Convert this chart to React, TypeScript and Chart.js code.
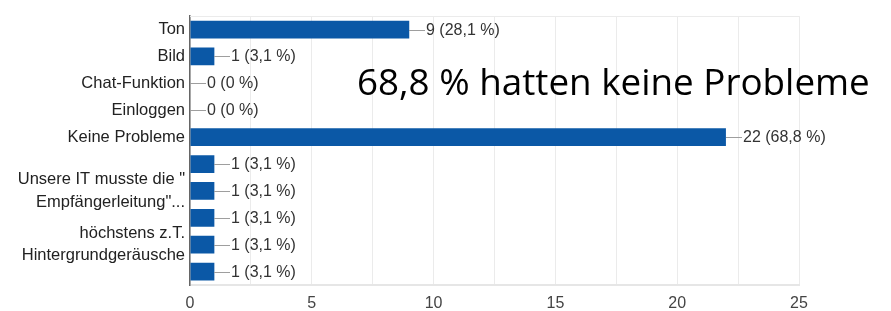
import React, { useEffect, useRef } from "react";
import { Chart, registerables } from "chart.js";

Chart.register(...registerables);

const categories: (string | string[])[] = [
  "Ton",
  "Bild",
  "Chat-Funktion",
  "Einloggen",
  "Keine Probleme",
  "",
  ['Unsere IT musste die "', 'Empfängerleitung"...'],
  "",
  ["höchstens z.T.", "Hintergrundgeräusche"],
  "",
];
const counts = [9, 1, 0, 0, 22, 1, 1, 1, 1, 1];
const valueLabels = [
  "9 (28,1 %)",
  "1 (3,1 %)",
  "0 (0 %)",
  "0 (0 %)",
  "22 (68,8 %)",
  "1 (3,1 %)",
  "1 (3,1 %)",
  "1 (3,1 %)",
  "1 (3,1 %)",
  "1 (3,1 %)",
];
const xMin = 0;
const xMax = 25;
const xStep = 2.5;
const xLabelEvery = 5;
const headline = "68,8 % hatten keine Probleme";

const FONT = "'Liberation Sans', Arial, sans-serif";

const overlayPlugin = {
  id: "overlay",
  beforeDatasetsDraw(chart: any) {
    const { ctx, chartArea } = chart;
    ctx.save();
    ctx.strokeStyle = "#ebebeb";
    ctx.lineWidth = 1;
    ctx.beginPath();
    ctx.moveTo(chartArea.left, Math.round(chartArea.top) + 0.5);
    ctx.lineTo(chartArea.right, Math.round(chartArea.top) + 0.5);
    ctx.stroke();
    ctx.restore();
  },
  afterDatasetsDraw(chart: any) {
    const { ctx } = chart;
    const meta = chart.getDatasetMeta(0);
    ctx.save();
    meta.data.forEach((bar: any, i: number) => {
      const x = Math.round(bar.x);
      const y = Math.round(bar.y) + 0.5;
      ctx.strokeStyle = "#9e9e9e";
      ctx.lineWidth = 1;
      ctx.beginPath();
      ctx.moveTo(x, y);
      ctx.lineTo(x + 16, y);
      ctx.stroke();
      ctx.fillStyle = "#333333";
      ctx.font = `16px ${FONT}`;
      ctx.textAlign = "left";
      ctx.textBaseline = "middle";
      ctx.fillText(valueLabels[i], x + 17, y);
    });
    // headline
    ctx.fillStyle = "#000000";
    const fam = "'Open Sans', 'Noto Sans', sans-serif";
    ctx.font = `100px ${fam}`;
    const w100 = ctx.measureText(headline).width;
    const size = (513 / w100) * 100;
    ctx.font = `${size}px ${fam}`;
    ctx.textAlign = "left";
    ctx.textBaseline = "alphabetic";
    ctx.fillText(headline, 357, 95);
    ctx.restore();
  },
};

export default function App() {
  const ref = useRef<HTMLCanvasElement | null>(null);
  useEffect(() => {
    if (!ref.current) return;
    const chart = new Chart(ref.current, {
      type: "bar",
      data: {
        labels: categories,
        datasets: [
          {
            data: counts,
            backgroundColor: "#0b58a6",
            borderWidth: 0,
            barPercentage: 0.66,
            categoryPercentage: 1,
          },
        ],
      },
      options: {
        indexAxis: "y",
        animation: false,
        responsive: true,
        maintainAspectRatio: false,
        layout: { padding: { top: 11, right: 92, left: 0, bottom: 0 } },
        plugins: {
          legend: { display: false },
          tooltip: { enabled: false },
        },
        scales: {
          x: {
            min: xMin,
            max: xMax,
            afterFit: (s: any) => {
              s.height = 26;
            },
            grid: { color: "#ebebeb", drawTicks: false },
            border: { color: "#e6e6e6", width: 2 },
            ticks: {
              stepSize: xStep,
              padding: 9,
              color: "#444444",
              font: { family: FONT, size: 16 },
              callback: (v: any) => (Number(v) % xLabelEvery === 0 ? String(v) : ""),
            },
          },
          y: {
            afterFit: (s: any) => {
              s.width = 190;
            },
            grid: { display: false, drawTicks: false },
            border: { color: "#666666", width: 1.5 },
            ticks: {
              autoSkip: false,
              padding: 5,
              color: "#222222",
              font: { family: FONT, size: 16.5, lineHeight: 1.35 },
            },
          },
        },
      },
      plugins: [overlayPlugin],
    });
    return () => chart.destroy();
  }, []);
  return (
    <div style={{ position: "absolute", left: 0, top: 0, width: 891, height: 311, background: "#fff" }}>
      <canvas ref={ref} />
    </div>
  );
}
